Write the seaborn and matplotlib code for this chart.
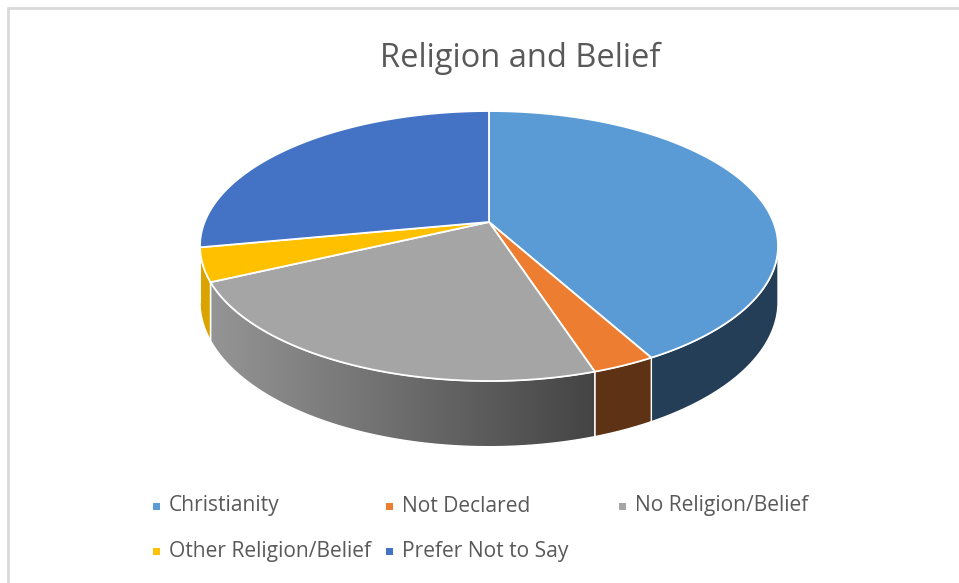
import numpy as np
import matplotlib
matplotlib.use("Agg")
import matplotlib.pyplot as plt
import seaborn as sns
from matplotlib.patches import Polygon, Rectangle
from matplotlib.lines import Line2D
from matplotlib.colors import LinearSegmentedColormap

# Religion and belief breakdown (percent of respondents)
categories = ["Christianity", "Not Declared", "No Religion/Belief",
              "Other Religion/Belief", "Prefer Not to Say"]
shares = [42, 3, 23, 4, 28]
top_colors = ["#5B9BD5", "#ED7D31", "#A5A5A5", "#FFC000", "#4472C4"]
side_colors = ["#233E56", "#5E3214", None, "#DAA300", "#2A4A80"]
gray_side_ramp = ["#959595", "#444444"]

sns.set_theme(style="white")
plt.rcParams["font.family"] = ["Open Sans", "DejaVu Sans"]

W, H = 959, 583
fig = plt.figure(figsize=(W / 100, H / 100), dpi=100)
ax = fig.add_axes([0, 0, 1, 1])
ax.axis("off")

# tilted-disc projection (screen pixel space, y downwards)
cx, cy = 489.0, 222.0
a, b, k = 284.4, 130.7, 0.178
depth = 54.0


def project(phi, z=0.0):
    u = np.sin(phi)
    v = np.cos(phi)
    s = 1.0 / (1.0 + k * v)
    return cx + a * u * s, cy + (-b * v + z) * s


fractions = np.asarray(shares, dtype=float) / np.sum(shares)
bounds = np.concatenate([[0.0], np.cumsum(fractions)]) * 2 * np.pi
lo = np.arccos(-k)
hi = 2 * np.pi - lo

# side walls
for i in range(len(shares)):
    p0, p1 = max(bounds[i], lo), min(bounds[i + 1], hi)
    if p1 <= p0:
        continue
    t = np.linspace(p0, p1, 200)
    xt, yt = project(t)
    xb, yb = project(t[::-1], depth)
    pts = np.column_stack([np.concatenate([xt, xb]), np.concatenate([yt, yb])])
    if side_colors[i] is None:
        poly = Polygon(pts, closed=True, facecolor="none", edgecolor="white",
                       linewidth=1.0, zorder=3)
        ax.add_patch(poly)
        cmap = LinearSegmentedColormap.from_list("wall", gray_side_ramp)
        grad = np.linspace(0, 1, 256).reshape(1, -1)
        im = ax.imshow(grad, cmap=cmap, aspect="auto", interpolation="bilinear",
                       extent=(pts[:, 0].min(), pts[:, 0].max(),
                               pts[:, 1].max(), pts[:, 1].min()), zorder=2)
        clip = Polygon(pts, closed=True, transform=ax.transData)
        im.set_clip_path(clip)
    else:
        ax.add_patch(Polygon(pts, closed=True, facecolor=side_colors[i],
                             edgecolor="white", linewidth=1.0, zorder=2))

# top faces
for i in range(len(shares)):
    t = np.linspace(bounds[i], bounds[i + 1], 300)
    xt, yt = project(t)
    pts = np.column_stack([np.concatenate([[cx], xt]), np.concatenate([[cy], yt])])
    ax.add_patch(Polygon(pts, closed=True, facecolor=top_colors[i],
                         edgecolor="white", linewidth=1.3, joinstyle="miter", zorder=4))

# title
ax.text(520, 67, "Religion and Belief", ha="center", va="baseline",
        fontsize=23.5, color="#595959")

# legend, laid out in rows of three
for i, label in enumerate(categories):
    row, col = divmod(i, 3)
    x0 = 153 + col * 233
    y0 = 506 + row * 45
    ax.add_patch(Rectangle((x0, y0 - 3.5), 7, 7, facecolor=top_colors[i],
                           edgecolor="none", zorder=5))
    ax.text(x0 + 16, y0, label, ha="left", va="center", fontsize=15.1,
            color="#595959")

# chart frame
fig.add_artist(Line2D([8 / W, 8 / W], [0, 1 - 8 / H], color="#D9D9D9", lw=2))
fig.add_artist(Line2D([8 / W, 1], [1 - 8 / H, 1 - 8 / H], color="#D9D9D9", lw=2))

ax.set_xlim(0, W)
ax.set_ylim(H, 0)
fig.savefig("out.png", dpi=100, facecolor="white")
